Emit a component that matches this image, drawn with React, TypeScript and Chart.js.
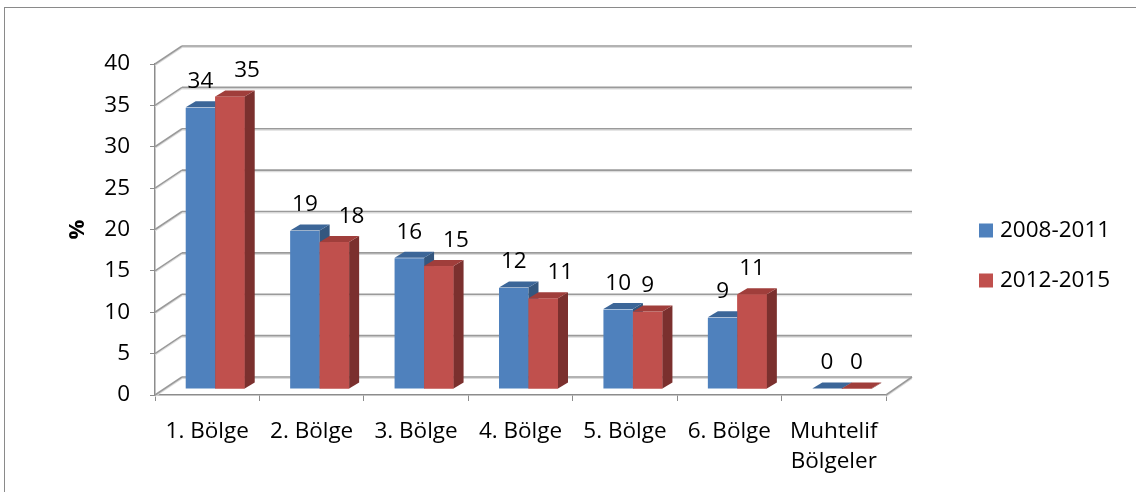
import React, { useEffect, useRef } from "react";
import { Chart, registerables } from "chart.js";

Chart.register(...registerables);

const categories: (string | string[])[] = [
  "1. Bölge",
  "2. Bölge",
  "3. Bölge",
  "4. Bölge",
  "5. Bölge",
  "6. Bölge",
  ["Muhtelif", "Bölgeler"],
];
const seriesNames = ["2008-2011", "2012-2015"];
const values2008 = [34.0, 19.1, 15.8, 12.2, 9.6, 8.6, 0];
const values2012 = [35.3, 17.7, 14.8, 10.9, 9.3, 11.4, 0];
const yTicksMin = 0;
const yTicksMax = 40;
const yTicksStep = 5;

const FONT = "'Open Sans', 'Noto Sans', sans-serif";
const FONT_SIZE = 22.5;
const FRONT = ["#4F81BD", "#C0504D"];
const TOP = ["#3C6698", "#A03E3B"];
const SIDE = ["#34577F", "#7B302E"];
const WALL_DX = 27;
const WALL_DY = -18;
const BAR_SHIFT_X = 8;
const BAR_SHIFT_Y = -6;
const BAR_DX = 10;
const BAR_DY = -6;

function poly(ctx: CanvasRenderingContext2D, pts: number[][], fill: string) {
  ctx.beginPath();
  ctx.moveTo(pts[0][0], pts[0][1]);
  for (let i = 1; i < pts.length; i++) ctx.lineTo(pts[i][0], pts[i][1]);
  ctx.closePath();
  ctx.fillStyle = fill;
  ctx.fill();
}

function gridLine(ctx: CanvasRenderingContext2D, x1: number, y1: number, x2: number, y2: number) {
  ctx.beginPath();
  ctx.moveTo(x1, y1 + 1.5);
  ctx.lineTo(x2, y2 + 1.5);
  ctx.strokeStyle = "#dcdcdc";
  ctx.lineWidth = 1.2;
  ctx.stroke();
  ctx.beginPath();
  ctx.moveTo(x1, y1);
  ctx.lineTo(x2, y2);
  ctx.strokeStyle = "#9a9a9a";
  ctx.lineWidth = 1.6;
  ctx.stroke();
}

const threeD = {
  id: "threeD",
  beforeDraw(chart: any) {
    const ctx: CanvasRenderingContext2D = chart.ctx;
    ctx.save();
    ctx.fillStyle = "#ffffff";
    ctx.fillRect(0, 0, chart.width, chart.height);
    ctx.strokeStyle = "#8a8a8a";
    ctx.lineWidth = 1;
    ctx.strokeRect(4.5, 7.5, chart.width + 20, chart.height + 20);
    ctx.restore();
  },
  beforeDatasetsDraw(chart: any) {
    const ctx: CanvasRenderingContext2D = chart.ctx;
    const { left, right, bottom } = chart.chartArea;
    const y = chart.scales.y;
    ctx.save();
    y.ticks.forEach((t: any) => {
      const py = y.getPixelForValue(t.value);
      gridLine(ctx, left, py, left + WALL_DX, py + WALL_DY);
      gridLine(ctx, left + WALL_DX, py + WALL_DY, right + WALL_DX - 1, py + WALL_DY);
    });
    gridLine(ctx, right, bottom, right + WALL_DX - 1, bottom + WALL_DY);
    ctx.restore();
    ctx.save();
    ctx.translate(BAR_SHIFT_X, BAR_SHIFT_Y);
  },
  afterDatasetsDraw(chart: any) {
    const ctx: CanvasRenderingContext2D = chart.ctx;
    const metas = [chart.getDatasetMeta(0), chart.getDatasetMeta(1)];
    const n = metas[0].data.length;
    for (let i = 0; i < n; i++) {
      metas.forEach((meta: any, d: number) => {
        const el = meta.data[i];
        const p = el.getProps(["x", "y", "base", "width"], true);
        const x0 = p.x - p.width / 2;
        const x1 = p.x + p.width / 2;
        const top = Math.min(p.y, p.base) - 0.5;
        const bot = p.base;
        if (d === 1) {
          ctx.fillStyle = FRONT[d];
          ctx.fillRect(x0, top, x1 - x0, bot - top);
        }
        poly(ctx, [[x1, top], [x1 + BAR_DX, top + BAR_DY], [x1 + BAR_DX, bot + BAR_DY], [x1, bot]], SIDE[d]);
        poly(ctx, [[x0, top], [x1, top], [x1 + BAR_DX, top + BAR_DY], [x0 + BAR_DX, top + BAR_DY]], TOP[d]);
      });
    }
    ctx.restore();
  },
  afterDraw(chart: any) {
    const ctx: CanvasRenderingContext2D = chart.ctx;
    ctx.save();
    ctx.font = `${FONT_SIZE}px ${FONT}`;
    ctx.fillStyle = "#000";
    ctx.textAlign = "center";
    ctx.textBaseline = "middle";
    const m0 = chart.getDatasetMeta(0);
    const m1 = chart.getDatasetMeta(1);
    const ds = chart.data.datasets;
    for (let i = 0; i < m0.data.length; i++) {
      const a = m0.data[i].getProps(["x", "y", "width"], true);
      const b = m1.data[i].getProps(["x", "y", "width"], true);
      const ta = String(Math.round(ds[0].data[i]));
      const tb = String(Math.round(ds[1].data[i]));
      const wa = ctx.measureText(ta).width;
      const wb = ctx.measureText(tb).width;
      const ca = a.x + BAR_SHIFT_X;
      let cb = b.x + BAR_SHIFT_X;
      if (ca + wa / 2 + 6 > cb - wb / 2) cb += b.width * 0.58;
      ctx.fillText(ta, ca, a.y + BAR_SHIFT_Y - 26);
      ctx.fillText(tb, cb, b.y + BAR_SHIFT_Y - 26);
    }
    // legend
    const { right, top, bottom } = chart.chartArea;
    const lx = right + 93;
    const mid = (top + bottom) / 2 + 1;
    ctx.textAlign = "left";
    ds.forEach((d: any, k: number) => {
      const cy = mid + k * 50;
      ctx.fillStyle = d.backgroundColor;
      ctx.fillRect(lx, cy - 7, 14, 14);
      ctx.fillStyle = "#000";
      ctx.fillText(d.label, lx + 21, cy);
    });
    ctx.restore();
  },
};

export default function App() {
  const ref = useRef<HTMLCanvasElement | null>(null);
  useEffect(() => {
    if (!ref.current) return;
    Chart.defaults.font.family = FONT;
    Chart.defaults.color = "#000";
    const chart = new Chart(ref.current, {
      type: "bar",
      data: {
        labels: categories,
        datasets: [
          { label: seriesNames[0], data: values2008, backgroundColor: FRONT[0], clip: false as any },
          { label: seriesNames[1], data: values2012, backgroundColor: FRONT[1], clip: false as any },
        ],
      },
      options: {
        animation: false,
        responsive: false,
        devicePixelRatio: 1,
        layout: { padding: { left: 0, top: 64, right: 250, bottom: 0 } },
        datasets: { bar: { categoryPercentage: 0.565, barPercentage: 1 } },
        plugins: { legend: { display: false }, tooltip: { enabled: false } },
        scales: {
          x: {
            afterFit: (s: any) => { s.height = 97; },
            grid: { drawOnChartArea: false, tickLength: 6, color: "#8c8c8c", offset: true },
            border: { color: "#8c8c8c", width: 1.5 },
            ticks: {
              font: { size: FONT_SIZE, lineHeight: 1.36 },
              padding: 15,
              autoSkip: false,
              maxRotation: 0,
              minRotation: 0,
            },
          },
          y: {
            min: yTicksMin,
            max: yTicksMax,
            afterFit: (s: any) => { s.width = 155; },
            grid: { drawOnChartArea: false, tickLength: 5, color: "#8c8c8c" },
            border: { color: "#8c8c8c", width: 1.5 },
            ticks: { stepSize: yTicksStep, font: { size: FONT_SIZE }, padding: 20 },
            title: {
              display: true,
              text: "%",
              font: { size: 22, weight: "bold", lineHeight: 1.2 },
              padding: { top: 65, bottom: 0 },
            },
          },
        },
      },
      plugins: [threeD],
    });
    return () => chart.destroy();
  }, []);
  return (
    <div style={{ position: "absolute", left: 0, top: 0, width: 1136, height: 492, background: "#fff" }}>
      <canvas ref={ref} width={1136} height={492} style={{ width: 1136, height: 492, display: "block" }} />
    </div>
  );
}
